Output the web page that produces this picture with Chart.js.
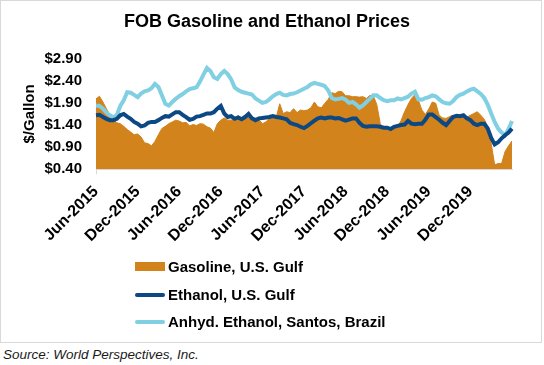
<!DOCTYPE html>
<html>
<head>
<meta charset="utf-8">
<script src="https://cdn.jsdelivr.net/npm/chart.js@4.4.1/dist/chart.umd.min.js"></script>
<style>
  body { margin: 0; background: #fff; font-family: Arial, "Liberation Sans", sans-serif; }
  #frame { position: absolute; left: 0; top: 0; width: 542px; height: 343px; box-sizing: border-box; border: 1px solid #d9d9d9; }
  #box { position: absolute; left: 0; top: 0; width: 540px; height: 341px; }
  .lg { position: absolute; left: 167px; font-weight: bold; font-size: 15px; line-height: 18px; color: #000; white-space: nowrap; }
  .sw { position: absolute; left: 134px; width: 30px; }
  #source { position: absolute; left: 3px; top: 347px; font-style: italic; font-size: 13.5px; line-height: 16px; color: #1a1a1a; }
</style>
</head>
<body>
<div id="frame">
  <div id="box"><canvas id="priceChart"></canvas></div>
  <div id="legend"></div>
</div>
<div id="source">Source: World Perspectives, Inc.</div>
<script>
// semi-monthly prices, Jun-2015 .. Jun-2020 ($/gallon)
const gasoline = [
  1.99, 2.05, 1.92, 1.77, 1.62, 1.52, 1.45, 1.43, 1.37, 1.30, 1.24, 1.18, 1.20, 1.13, 1.00, 0.98, 0.93, 1.03, 1.18, 1.32,
  1.37, 1.43, 1.47, 1.51, 1.49, 1.45, 1.46, 1.38, 1.41, 1.39, 1.43, 1.42, 1.36, 1.33, 1.23, 1.43, 1.51, 1.56, 1.51, 1.51,
  1.56, 1.61, 1.55, 1.58, 1.65, 1.58, 1.52, 1.52, 1.43, 1.47, 1.55, 1.58, 1.58, 1.88, 1.66, 1.70, 1.68, 1.77, 1.68, 1.74,
  1.72, 1.74, 1.79, 1.92, 1.81, 1.79, 1.89, 1.98, 2.13, 2.11, 2.16, 2.15, 2.06, 2.06, 2.04, 2.04, 2.03, 2.04, 2.00, 2.07,
  2.06, 1.86, 1.43, 1.32, 1.31, 1.28, 1.31, 1.36, 1.50, 1.70, 1.86, 2.00, 2.09, 1.96, 1.74, 1.64, 1.76, 1.92, 1.89, 1.62,
  1.56, 1.55, 1.59, 1.62, 1.58, 1.61, 1.62, 1.58, 1.62, 1.66, 1.70, 1.62, 1.53, 1.36, 0.98, 0.50, 0.53, 0.53, 0.80, 0.93,
  1.04
];
const ethanolGulf = [
  1.62, 1.63, 1.58, 1.54, 1.51, 1.51, 1.54, 1.62, 1.65, 1.59, 1.54, 1.47, 1.43, 1.37, 1.39, 1.45, 1.47, 1.47, 1.51, 1.56,
  1.60, 1.59, 1.64, 1.69, 1.69, 1.63, 1.58, 1.52, 1.54, 1.59, 1.60, 1.63, 1.66, 1.66, 1.69, 1.77, 1.83, 1.66, 1.58, 1.60,
  1.54, 1.57, 1.53, 1.58, 1.65, 1.55, 1.51, 1.55, 1.56, 1.57, 1.58, 1.60, 1.58, 1.57, 1.55, 1.53, 1.45, 1.42, 1.40, 1.36,
  1.33, 1.38, 1.44, 1.50, 1.55, 1.57, 1.55, 1.57, 1.57, 1.55, 1.56, 1.53, 1.50, 1.52, 1.55, 1.55, 1.45, 1.38, 1.36, 1.37,
  1.37, 1.37, 1.36, 1.34, 1.34, 1.31, 1.36, 1.38, 1.40, 1.41, 1.49, 1.43, 1.42, 1.43, 1.43, 1.52, 1.64, 1.64, 1.58, 1.52,
  1.45, 1.40, 1.49, 1.58, 1.61, 1.60, 1.62, 1.55, 1.51, 1.43, 1.40, 1.43, 1.43, 1.32, 1.11, 0.96, 1.01, 1.10, 1.17, 1.23,
  1.32
];
const ethanolSantos = [
  1.84, 1.83, 1.77, 1.68, 1.62, 1.57, 1.62, 1.83, 1.96, 2.14, 2.13, 2.08, 2.03, 2.11, 2.16, 2.18, 2.23, 2.33, 2.26, 2.07,
  1.88, 1.84, 1.92, 1.99, 2.05, 2.10, 2.16, 2.21, 2.23, 2.25, 2.38, 2.54, 2.69, 2.62, 2.48, 2.44, 2.55, 2.62, 2.55, 2.43,
  2.25, 2.19, 2.15, 2.13, 2.11, 2.09, 2.00, 1.95, 1.90, 1.92, 1.98, 2.05, 2.10, 2.13, 2.08, 2.07, 2.10, 2.11, 2.14, 2.18,
  2.22, 2.26, 2.32, 2.35, 2.33, 2.31, 2.28, 2.18, 2.01, 1.98, 1.99, 2.01, 1.97, 1.90, 1.92, 1.87, 1.79, 1.84, 1.92, 1.99,
  2.07, 2.07, 2.01, 1.96, 1.94, 1.96, 1.96, 2.00, 1.98, 2.01, 2.04, 2.11, 2.15, 1.98, 1.97, 2.01, 2.03, 2.07, 2.05, 1.98,
  1.92, 1.89, 1.88, 1.94, 2.03, 2.08, 2.11, 2.16, 2.20, 2.22, 2.16, 2.10, 2.01, 1.86, 1.66, 1.47, 1.32, 1.23, 1.17, 1.31,
  1.49
];
const yTicks = [0.40, 0.90, 1.40, 1.90, 2.40, 2.90];

const monthNames = ['Jan', 'Feb', 'Mar', 'Apr', 'May', 'Jun', 'Jul', 'Aug', 'Sep', 'Oct', 'Nov', 'Dec'];
const periods = [];
for (let i = 0; i < gasoline.length; i++) {
  const m = 5 + Math.floor(i / 2);
  periods.push(monthNames[m % 12] + '-' + (2015 + Math.floor(m / 12)) + (i % 2 ? ' (2)' : ''));
}

const ORANGE = '#D2831B';
const NAVY = '#0C4884';
const LIGHTBLUE = '#80CFE2';

Chart.defaults.font.family = 'Arial, "Liberation Sans", sans-serif';
Chart.defaults.color = '#000';

const shownTick = (i) => i % 12 === 0 && i < periods.length - 1;

const chart = new Chart(document.getElementById('priceChart'), {
  type: 'line',
  data: {
    labels: periods,
    datasets: [
      {
        label: 'Gasoline, U.S. Gulf',
        data: gasoline,
        fill: 'start',
        backgroundColor: ORANGE,
        borderColor: ORANGE,
        borderWidth: 1,
        pointRadius: 0,
        order: 3
      },
      {
        label: 'Ethanol, U.S. Gulf',
        data: ethanolGulf,
        fill: false,
        borderColor: NAVY,
        borderWidth: 4,
        pointRadius: 0,
        order: 1
      },
      {
        label: 'Anhyd. Ethanol, Santos, Brazil',
        data: ethanolSantos,
        fill: false,
        borderColor: LIGHTBLUE,
        borderWidth: 4,
        pointRadius: 0,
        order: 2
      }
    ]
  },
  options: {
    responsive: true,
    maintainAspectRatio: false,
    animation: false,
    // left padding keeps the title centred where the original has it
    layout: { padding: { left: 21, right: 29, top: 0, bottom: 0 } },
    plugins: {
      legend: { display: false },
      tooltip: { enabled: false },
      title: {
        display: true,
        text: 'FOB Gasoline and Ethanol Prices',
        font: { size: 18, weight: 'bold' },
        padding: { top: 10, bottom: 26 }
      }
    },
    scales: {
      x: {
        offset: false,
        grid: {
          display: true,
          drawOnChartArea: false,
          drawTicks: true,
          tickLength: 5,
          color: (ctx) => shownTick(ctx.index) ? '#d9d9d9' : 'rgba(0,0,0,0)'
        },
        border: { display: true, color: '#d9d9d9', width: 1 },
        ticks: {
          autoSkip: false,
          minRotation: 45,
          maxRotation: 45,
          padding: 8,
          font: { size: 16, weight: 'bold' },
          callback: (v, i) => shownTick(i) ? periods[i] : null
        },
        afterFit: (s) => { s.height = 172.7; }
      },
      y: {
        min: 0.4,
        max: 2.9,
        grid: { display: false, drawTicks: false },
        border: { display: false },
        afterBuildTicks: (s) => { s.ticks = yTicks.map(v => ({ value: v })); },
        ticks: {
          padding: 14,
          font: { size: 15, weight: 'bold' },
          callback: (v) => '$' + Number(v).toFixed(2)
        },
        title: {
          display: true,
          text: '$/Gallon',
          font: { size: 15, weight: 'bold' },
          padding: { top: -1, bottom: 0 }
        },
        afterFit: (s) => { s.width = 74; }
      }
    }
  }
});

// legend stacked under the axis, like the original
const legendBox = document.getElementById('legend');
const rows = [262, 290, 317];
chart.data.datasets.forEach((ds, k) => {
  const top = rows[k];
  const sw = document.createElement('div');
  sw.className = 'sw';
  if (ds.fill) {
    sw.style.top = (top - 1) + 'px';
    sw.style.height = '9px';
    sw.style.background = ds.backgroundColor;
  } else {
    sw.style.top = (top + 2) + 'px';
    sw.style.height = '4px';
    sw.style.borderRadius = '2px';
    sw.style.background = ds.borderColor;
  }
  const txt = document.createElement('div');
  txt.className = 'lg';
  txt.style.top = (top - 5) + 'px';
  txt.textContent = ds.label;
  legendBox.appendChild(sw);
  legendBox.appendChild(txt);
});
</script>
</body>
</html>
